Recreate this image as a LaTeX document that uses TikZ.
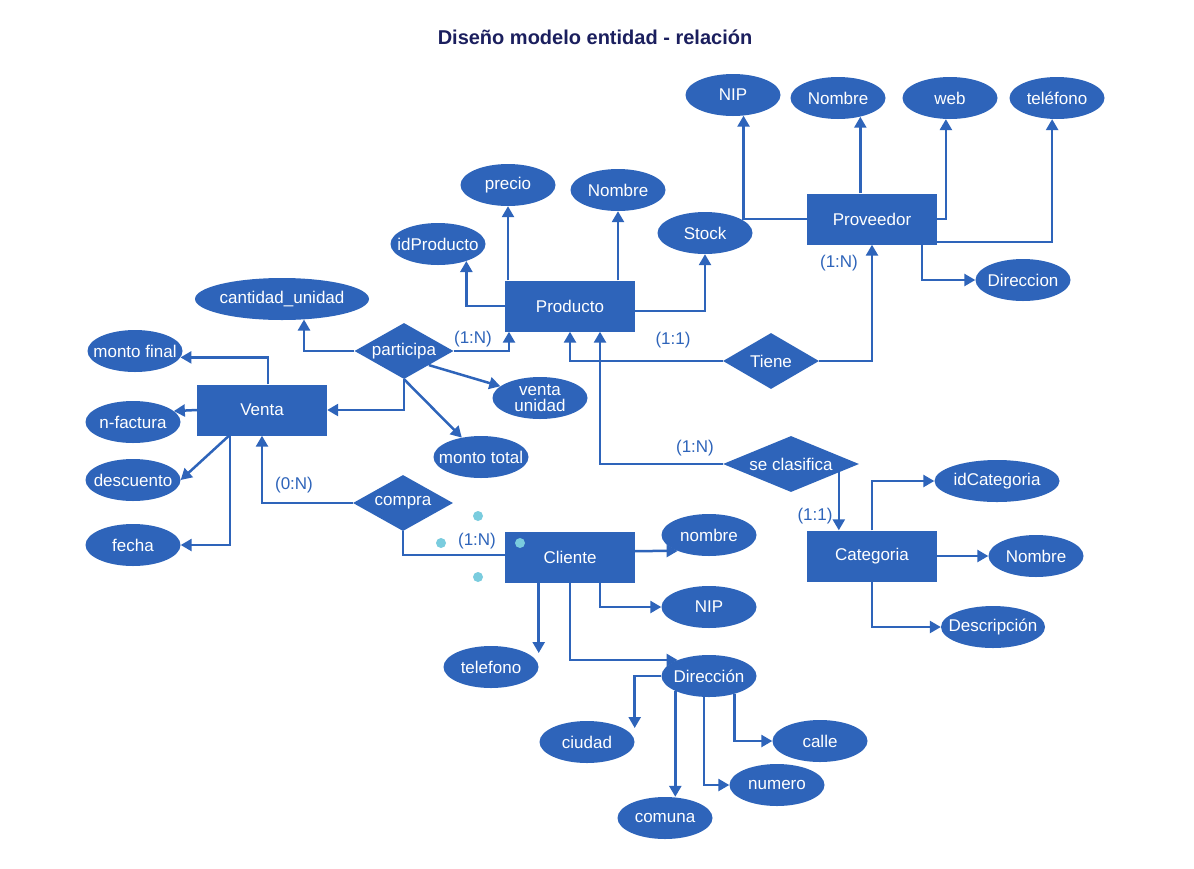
\documentclass[tikz,border=0pt]{standalone}
\usepackage{fontspec}
\setmainfont{Liberation Sans}
\usetikzlibrary{shapes.geometric,arrows.meta}
\definecolor{erblue}{RGB}{46,100,186}
\definecolor{erdark}{RGB}{27,31,94}
\definecolor{erdot}{RGB}{122,204,222}

\begin{document}
\begin{tikzpicture}[x=1pt,y=-1pt,
   every node/.style={font=\fontsize{17}{16}\selectfont},
   entity/.style={rectangle,fill=erblue,text=white,minimum width=130pt,minimum height=51pt,inner sep=0pt},
   rel/.style={diamond,fill=erblue,text=white,aspect=2,inner sep=0pt,minimum height=56pt},
   attr/.style={ellipse,fill=erblue,text=white,minimum width=95pt,minimum height=42pt,inner xsep=-20pt,inner ysep=-6pt},
   card/.style={text=erblue},
   link/.style={draw=erblue,line width=2.5pt},
   arr/.style={link,-{Triangle[length=11pt,width=12pt]}}]
   \fill[white] (0,0) rectangle (1194,868);
   \node[text=erdark,font=\bfseries\fontsize{20}{22}\selectfont] (title) at (595,37) {Diseño modelo entidad - relación};

   % entidades
   \node[entity] (prod)  at (570,306) {Producto};
   \node[entity] (prov)  at (872,219) {Proveedor};
   \node[entity] (venta) at (262,410) {Venta};
   \node[entity] (cli)   at (570,557) {Cliente};
   \node[entity] (cat)   at (872,556) {Categoria};

   % relaciones
   \node[rel,minimum width=99pt]  (r_part)   at (404,351) {participa};
   \node[rel,minimum width=100pt] (r_compra) at (403,503) {compra};
   \node[rel,minimum width=96pt]  (r_tiene)  at (771,361) {Tiene};
   \node[rel,minimum width=136pt] (r_clas)   at (791,464) {se clasifica};

   % atributos
   \node[attr] (a_precio) at (508,185) {precio};
   \node[attr] (a_pnom)   at (618,190) {Nombre};
   \node[attr] (a_idprod) at (438,244) {idProducto};
   \node[attr] (a_stock)  at (705,233) {Stock};
   \node[attr,minimum width=174pt] (a_cant) at (282,299) {cantidad\_unidad};
   \node[attr] (a_mfinal) at (135,351) {monto final};
   \node[attr] (a_nfact)  at (133,422) {n-factura};
   \node[attr] (a_desc)   at (133,480) {descuento};
   \node[attr] (a_fecha)  at (133,545) {fecha};
   \node[attr,align=center] (a_vunid) at (540,398) {venta\\unidad};
   \node[attr] (a_mtotal) at (481,457) {monto total};
   \node[attr] (a_vnip)   at (733,95)  {NIP};
   \node[attr] (a_vnom)   at (838,98)  {Nombre};
   \node[attr] (a_web)    at (950,98)  {web};
   \node[attr] (a_vtel)   at (1057,98) {teléfono};
   \node[attr] (a_vdir)   at (1023,280) {Direccion};
   \node[attr,minimum width=125pt] (a_idcat) at (997,481) {idCategoria};
   \node[attr] (a_cnom)   at (1036,556) {Nombre};
   \node[attr,minimum width=104pt] (a_cdesc) at (993,627) {Descripción};
   \node[attr] (a_nom)    at (709,535) {nombre};
   \node[attr] (a_nip)    at (709,607) {NIP};
   \node[attr] (a_tel)    at (491,667) {telefono};
   \node[attr] (a_dir)    at (709,676) {Dirección};
   \node[attr] (a_ciudad) at (587,742) {ciudad};
   \node[attr] (a_comuna) at (665,818) {comuna};
   \node[attr] (a_calle)  at (820,741) {calle};
   \node[attr] (a_numero) at (777,785) {numero};

   % cardinalidades
   \node[card] (c_part)  at (473,339) {(1:N)};
   \node[card] (c_compv) at (294,485) {(0:N)};
   \node[card] (c_compc) at (477,541) {(1:N)};
   \node[card] (c_tprod) at (673,340) {(1:1)};
   \node[card] (c_tprov) at (839,263) {(1:N)};
   \node[card] (c_cprod) at (695,448) {(1:N)};
   \node[card] (c_ccat)  at (815,516) {(1:1)};

   % Producto
   \draw[arr] (prod.west) -| (a_idprod.-31);
   \draw[arr] (prod.north -| a_precio.south) -- (a_precio.south);
   \draw[arr] (prod.north -| a_pnom.south) -- (a_pnom.south);
   \draw[arr] ([yshift=-5pt]prod.east) -| (a_stock.south);
   % Proveedor
   \draw[arr] (prov.west) -| (a_vnip.-63);
   \draw[arr] (prov.north -| a_vnom.-40) -- (a_vnom.-40);
   \draw[arr] (prov.east) -| (a_web.-101);
   \draw[arr] ([yshift=-23pt]prov.east) -| (a_vtel.-103);
   \draw[arr] ([xshift=50pt]prov.south) |- (a_vdir.west);
   % Tiene, se clasifica
   \draw[arr] (r_tiene.east) -| (prov.south);
   \draw[arr] (r_tiene.west) -| (prod.south);
   \draw[arr] (r_clas.west) -| ([xshift=30pt]prod.south);
   \draw[arr] (r_clas.-10) -- (r_clas.-10 |- cat.north);
   % participa, compra
   \draw[arr] (r_part.east) -| ([xshift=-61pt]prod.south);
   \draw[arr] (r_part.west) -| (a_cant.-43);
   \draw[arr] (r_part.south) |- (venta.east);
   \draw[arr] (r_part.south east) -- (a_vunid);
   \draw[arr] (r_part.south) -- (a_mtotal);
   \draw[arr] (r_compra.west) -| (venta.south);
   \draw[link] (r_compra.south) |- ([yshift=2pt]cli.west);
   % Venta
   \draw[arr] ([xshift=6pt]venta.north) |- (a_mfinal.-8);
   \draw[arr] (venta.west) -- (a_nfact.15);
   \draw[arr] ([xshift=-33pt]venta.south) -- (a_desc.east);
   \draw[arr] ([xshift=-32pt]venta.south) |- (a_fecha.east);
   % Categoria
   \draw[arr] (cat.north) |- (a_idcat.west);
   \draw[arr] (cat.east) -- (a_cnom.west);
   \draw[arr] (cat.south) |- (a_cdesc.west);
   % Cliente
   \draw[arr] ([yshift=6pt]cli.east) -- (a_nom.-153);
   \draw[arr] ([xshift=30pt]cli.south) |- (a_nip.west);
   \draw[arr] (cli.south -| a_tel.east) -- ([yshift=14pt]a_tel.east);
   \draw[arr] (cli.south) |- (a_dir.153);
   % Direccion
   \draw[arr] (a_dir.west) -| ([yshift=14pt]a_ciudad.east);
   \draw[arr] (a_dir.-156) -- (a_dir.-156 |- a_comuna.north);
   \draw[arr] ([xshift=-5pt]a_dir.south) |- (a_numero.west);
   \draw[arr] (a_dir.-35) |- (a_calle.west);

   \foreach \x/\y in {478/516,441/543,520/543,478/577}
      \fill[erdot] (\x,\y) circle (5pt);
\end{tikzpicture}
\end{document}
